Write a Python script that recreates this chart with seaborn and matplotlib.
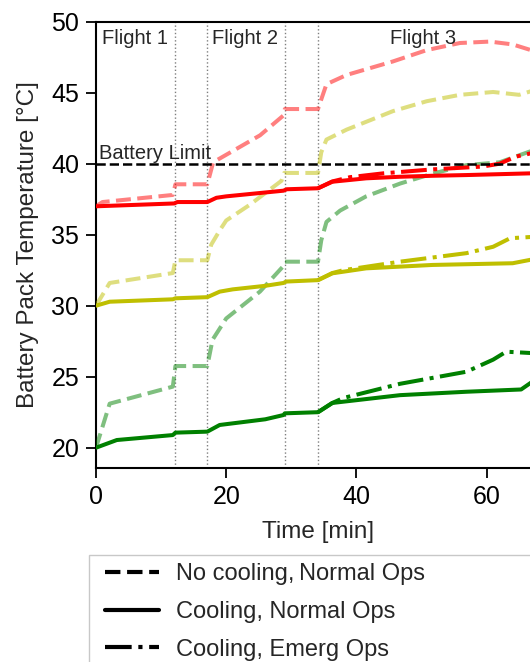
import matplotlib
matplotlib.use("Agg")
import matplotlib.pyplot as plt
from matplotlib.lines import Line2D
from matplotlib.patches import Rectangle
import pandas as pd
import seaborn as sns

# ---------------- data ----------------
flight_bounds = [12.2, 17.1, 29.0, 34.1]
flight_labels = ["Flight 1", "Flight 2", "Flight 3"]
battery_limit = 40.0

# No cooling, normal ops
t_nc_r = [0, 1.0, 11.8, 12.2, 17.1, 18.0, 25.2, 28.8, 29.0, 34.1, 35.4, 38.5, 45.6, 50.8, 55.9, 60.5, 64.0, 67.5]
T_nc_r = [37.0, 37.3, 37.8, 38.55, 38.55, 40.1, 42.0, 43.4, 43.85, 43.85, 45.6, 46.25, 47.2, 48.0, 48.5, 48.6, 48.4, 47.9]
t_nc_y = [0, 2.1, 11.8, 12.2, 17.1, 17.7, 19.0, 20.0, 23.6, 28.5, 28.9, 34.1, 34.6, 35.4, 38.5, 45.6, 50.8, 55.9, 61.0, 65.0, 67.5]
T_nc_y = [30.0, 31.6, 32.3, 33.2, 33.2, 34.3, 35.3, 36.0, 37.1, 38.8, 39.35, 39.35, 40.8, 41.7, 42.4, 43.7, 44.4, 44.85, 45.05, 44.85, 45.2]
t_nc_g = [0, 2.1, 11.8, 12.2, 17.1, 17.9, 20.0, 25.2, 28.8, 29.0, 34.1, 34.6, 35.4, 37.5, 41.5, 46.7, 51.7, 56.9, 62.0, 67.5]
T_nc_g = [20.0, 23.1, 24.3, 25.75, 25.75, 27.6, 29.1, 31.0, 32.8, 33.1, 33.1, 34.6, 35.9, 36.7, 37.7, 38.6, 39.3, 39.9, 40.1, 41.0]

# Cooling, normal ops
t_c_r = [0, 12.0, 12.5, 17.1, 18.5, 20.0, 28.8, 29.3, 34.1, 36.3, 41.5, 46.7, 51.7, 56.9, 67.5]
T_c_r = [37.0, 37.2, 37.3, 37.3, 37.6, 37.7, 38.1, 38.2, 38.27, 38.73, 38.97, 39.08, 39.15, 39.2, 39.33]
t_c_y = [0, 2.1, 11.8, 12.2, 17.1, 19.0, 21.0, 26.0, 28.8, 29.2, 34.1, 36.3, 41.5, 51.7, 64.0, 67.5]
T_c_y = [30.0, 30.28, 30.45, 30.52, 30.6, 30.99, 31.15, 31.4, 31.6, 31.7, 31.8, 32.28, 32.63, 32.87, 32.99, 33.3]
t_c_g = [0, 3.2, 11.8, 12.2, 17.1, 19.0, 26.0, 28.8, 29.0, 34.1, 36.3, 46.7, 56.9, 65.3, 67.5]
T_c_g = [20.0, 20.54, 20.89, 21.06, 21.13, 21.6, 22.0, 22.3, 22.42, 22.5, 23.15, 23.7, 23.94, 24.1, 24.8]

# Cooling, emergency ops
t_e_r = [34.1, 36.3, 39.0, 44.1, 51.7, 59.4, 62.0, 64.5, 67.5]
T_e_r = [38.27, 38.75, 39.05, 39.32, 39.6, 39.8, 40.0, 40.5, 40.8]
t_e_y = [34.1, 36.3, 38.0, 46.7, 56.9, 61.0, 63.6, 67.5]
T_e_y = [31.8, 32.3, 32.5, 33.1, 33.7, 34.15, 34.75, 34.86]
t_e_g = [34.1, 36.3, 38.0, 46.7, 56.9, 61.0, 63.0, 67.5]
T_e_g = [22.5, 23.15, 23.5, 24.5, 25.35, 26.2, 26.76, 26.65]

legend_labels = ["No cooling,\u2009Normal Ops", "Cooling, Normal Ops", "Cooling, Emerg Ops"]

# ---------------- styling ----------------
sns.set_style("ticks")
plt.rcParams['font.family'] = ['Liberation Sans', 'DejaVu Sans']

fig = plt.figure(figsize=(5.30, 6.62), dpi=100)
ax = fig.add_axes([96 / 530, 1 - 468 / 662, 444 / 530, (468 - 21.7) / 662])

RED, YEL, GRN = "#ff0000", "#bfbf00", "#008000"
LW = 2.9

series = [
    (t_nc_r, T_nc_r, RED, "--", 0.5),
    (t_nc_y, T_nc_y, YEL, "--", 0.5),
    (t_nc_g, T_nc_g, GRN, "--", 0.5),
    (t_c_r, T_c_r, RED, "-", 1.0),
    (t_c_y, T_c_y, YEL, "-", 1.0),
    (t_c_g, T_c_g, GRN, "-", 1.0),
    (t_e_r, T_e_r, RED, "-.", 1.0),
    (t_e_y, T_e_y, YEL, "-.", 1.0),
    (t_e_g, T_e_g, GRN, "-.", 1.0),
]

for xb in flight_bounds:
    ax.axvline(xb, color="#7f7f7f", ls=":", lw=1.0, zorder=1)

for t, T, c, ls, a in series:
    df = pd.DataFrame({"t": t, "T": T})
    sns.lineplot(data=df, x="t", y="T", color=c, linestyle=ls, lw=LW, alpha=a,
                 estimator=None, sort=False, ax=ax, legend=False, zorder=3)

ax.axhline(battery_limit, color="black", ls="--", lw=1.8, zorder=4)
ax.text(0.45, battery_limit + 0.3, "Battery Limit", fontsize=14.5, ha="left", va="baseline")

ax.text(0.9, 48.4, flight_labels[0], fontsize=14.5, ha="left", va="baseline")
ax.text(17.8, 48.4, flight_labels[1], fontsize=14.5, ha="left", va="baseline")
ax.text(50.2, 48.4, flight_labels[2], fontsize=14.5, ha="center", va="baseline")

ax.set_xlim(0, 68.2)
ax.set_ylim(18.57, 50)
ax.set_xticks([0, 20, 40, 60])
ax.set_yticks([20, 25, 30, 35, 40, 45, 50])
ax.tick_params(direction="out", length=7, width=1.3, labelsize=18, pad=5, colors="black")
for s in ax.spines.values():
    s.set_linewidth(1.5)
    s.set_color("black")
ax.set_xlabel("Time [min]", fontsize=17.5, labelpad=9)
ax.set_ylabel("Battery Pack Temperature [\u00b0C]", fontsize=17.5, labelpad=9)

handles = [Line2D([], [], color="black", ls="--", lw=3),
           Line2D([], [], color="black", ls="-", lw=3),
           Line2D([], [], color="black", ls="-.", lw=3)]
leg = fig.legend(handles, legend_labels, loc="upper left",
                 bbox_to_anchor=(96 / 530, 1 - 554 / 662),
                 borderaxespad=0, borderpad=0.4, fontsize=17, handlelength=2.25,
                 handletextpad=0.75, labelspacing=0.66, frameon=False)
fig.patches.append(Rectangle((89 / 530, -0.05), 1.0, 0.05 + (662 - 555) / 662,
                             transform=fig.transFigure, fill=False,
                             edgecolor="#c8c8c8", lw=1.0, zorder=0))

fig.savefig("out.png", dpi=100)
